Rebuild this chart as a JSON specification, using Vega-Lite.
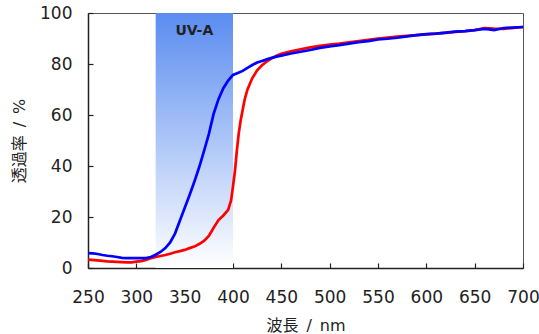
{
  "$schema": "https://vega.github.io/schema/vega-lite/v6.json",
  "width": 435,
  "height": 255,
  "autosize": {"type": "none"},
  "padding": {"left": 88, "top": 13, "right": 16, "bottom": 66},
  "config": {
    "view": {"stroke": "#555", "strokeWidth": 1},
    "font": "DejaVu Sans",
    "axis": {
      "grid": false,
      "domainColor": "#222",
      "domainWidth": 1.5,
      "tickColor": "#222",
      "tickWidth": 1.2,
      "tickSize": -5,
      "labelColor": "#222",
      "labelFont": "DejaVu Sans",
      "labelFontSize": 17,
      "titleFont": "DejaVu Sans, Noto Sans CJK JP",
      "titleFontSize": 16,
      "titleFontWeight": "normal",
      "titleColor": "#222"
    }
  },
  "datasets": {
    "band": [{"start": 320, "end": 400, "name": "UV-A"}],
    "spectra": [
      {"nm": 250, "T": 5.8, "sample": "B"}, {"nm": 255, "T": 5.7, "sample": "B"}, {"nm": 260, "T": 5.5, "sample": "B"},
      {"nm": 265, "T": 5.1, "sample": "B"}, {"nm": 270, "T": 4.8, "sample": "B"}, {"nm": 275, "T": 4.6, "sample": "B"},
      {"nm": 280, "T": 4.3, "sample": "B"}, {"nm": 285, "T": 4.0, "sample": "B"}, {"nm": 290, "T": 3.9, "sample": "B"},
      {"nm": 295, "T": 3.9, "sample": "B"}, {"nm": 300, "T": 3.9, "sample": "B"}, {"nm": 305, "T": 3.9, "sample": "B"},
      {"nm": 310, "T": 3.9, "sample": "B"}, {"nm": 315, "T": 4.3, "sample": "B"}, {"nm": 320, "T": 5.2, "sample": "B"},
      {"nm": 325, "T": 6.3, "sample": "B"}, {"nm": 330, "T": 7.8, "sample": "B"}, {"nm": 335, "T": 10.0, "sample": "B"},
      {"nm": 340, "T": 13.5, "sample": "B"}, {"nm": 345, "T": 18.5, "sample": "B"}, {"nm": 350, "T": 23.5, "sample": "B"},
      {"nm": 355, "T": 28.5, "sample": "B"}, {"nm": 360, "T": 33.8, "sample": "B"}, {"nm": 365, "T": 39.5, "sample": "B"},
      {"nm": 370, "T": 45.8, "sample": "B"}, {"nm": 375, "T": 52.5, "sample": "B"}, {"nm": 380, "T": 60.5, "sample": "B"},
      {"nm": 385, "T": 66.2, "sample": "B"}, {"nm": 390, "T": 70.5, "sample": "B"}, {"nm": 395, "T": 73.5, "sample": "B"},
      {"nm": 400, "T": 75.7, "sample": "B"}, {"nm": 405, "T": 76.5, "sample": "B"}, {"nm": 410, "T": 77.3, "sample": "B"},
      {"nm": 415, "T": 78.5, "sample": "B"}, {"nm": 420, "T": 79.6, "sample": "B"}, {"nm": 425, "T": 80.6, "sample": "B"},
      {"nm": 430, "T": 81.2, "sample": "B"}, {"nm": 435, "T": 81.8, "sample": "B"}, {"nm": 440, "T": 82.4, "sample": "B"},
      {"nm": 445, "T": 82.9, "sample": "B"}, {"nm": 450, "T": 83.3, "sample": "B"}, {"nm": 460, "T": 84.1, "sample": "B"},
      {"nm": 470, "T": 84.8, "sample": "B"}, {"nm": 480, "T": 85.5, "sample": "B"}, {"nm": 490, "T": 86.3, "sample": "B"},
      {"nm": 500, "T": 86.9, "sample": "B"}, {"nm": 510, "T": 87.4, "sample": "B"}, {"nm": 520, "T": 88.0, "sample": "B"},
      {"nm": 530, "T": 88.6, "sample": "B"}, {"nm": 540, "T": 89.0, "sample": "B"}, {"nm": 550, "T": 89.6, "sample": "B"},
      {"nm": 560, "T": 89.9, "sample": "B"}, {"nm": 570, "T": 90.3, "sample": "B"}, {"nm": 580, "T": 90.8, "sample": "B"},
      {"nm": 590, "T": 91.3, "sample": "B"}, {"nm": 600, "T": 91.7, "sample": "B"}, {"nm": 610, "T": 91.9, "sample": "B"},
      {"nm": 620, "T": 92.3, "sample": "B"}, {"nm": 630, "T": 92.7, "sample": "B"}, {"nm": 640, "T": 92.9, "sample": "B"},
      {"nm": 650, "T": 93.3, "sample": "B"}, {"nm": 660, "T": 93.8, "sample": "B"}, {"nm": 665, "T": 93.6, "sample": "B"},
      {"nm": 670, "T": 93.3, "sample": "B"}, {"nm": 680, "T": 94.1, "sample": "B"}, {"nm": 690, "T": 94.3, "sample": "B"},
      {"nm": 700, "T": 94.5, "sample": "B"},
      {"nm": 250, "T": 3.3, "sample": "A"}, {"nm": 260, "T": 3.0, "sample": "A"}, {"nm": 270, "T": 2.6, "sample": "A"},
      {"nm": 280, "T": 2.4, "sample": "A"}, {"nm": 290, "T": 2.2, "sample": "A"}, {"nm": 295, "T": 2.2, "sample": "A"},
      {"nm": 300, "T": 2.5, "sample": "A"}, {"nm": 305, "T": 2.7, "sample": "A"}, {"nm": 310, "T": 3.2, "sample": "A"},
      {"nm": 315, "T": 3.8, "sample": "A"}, {"nm": 320, "T": 4.3, "sample": "A"}, {"nm": 325, "T": 4.7, "sample": "A"},
      {"nm": 330, "T": 5.1, "sample": "A"}, {"nm": 335, "T": 5.6, "sample": "A"}, {"nm": 340, "T": 6.2, "sample": "A"},
      {"nm": 345, "T": 6.6, "sample": "A"}, {"nm": 350, "T": 7.1, "sample": "A"}, {"nm": 355, "T": 7.8, "sample": "A"},
      {"nm": 360, "T": 8.4, "sample": "A"}, {"nm": 365, "T": 9.4, "sample": "A"}, {"nm": 370, "T": 10.6, "sample": "A"},
      {"nm": 375, "T": 12.6, "sample": "A"}, {"nm": 380, "T": 15.8, "sample": "A"}, {"nm": 385, "T": 18.8, "sample": "A"},
      {"nm": 390, "T": 20.6, "sample": "A"}, {"nm": 395, "T": 22.8, "sample": "A"}, {"nm": 398, "T": 26.5, "sample": "A"},
      {"nm": 400, "T": 32.0, "sample": "A"}, {"nm": 402, "T": 38.0, "sample": "A"}, {"nm": 404, "T": 46.0, "sample": "A"},
      {"nm": 406, "T": 53.0, "sample": "A"}, {"nm": 408, "T": 58.0, "sample": "A"}, {"nm": 410, "T": 62.0, "sample": "A"},
      {"nm": 412, "T": 66.0, "sample": "A"}, {"nm": 415, "T": 70.0, "sample": "A"}, {"nm": 420, "T": 74.5, "sample": "A"},
      {"nm": 425, "T": 77.5, "sample": "A"}, {"nm": 430, "T": 79.5, "sample": "A"}, {"nm": 435, "T": 81.0, "sample": "A"},
      {"nm": 440, "T": 82.2, "sample": "A"}, {"nm": 445, "T": 83.2, "sample": "A"}, {"nm": 450, "T": 84.0, "sample": "A"},
      {"nm": 460, "T": 85.0, "sample": "A"}, {"nm": 470, "T": 85.8, "sample": "A"}, {"nm": 480, "T": 86.5, "sample": "A"},
      {"nm": 490, "T": 87.1, "sample": "A"}, {"nm": 500, "T": 87.6, "sample": "A"}, {"nm": 510, "T": 88.0, "sample": "A"},
      {"nm": 520, "T": 88.5, "sample": "A"}, {"nm": 530, "T": 89.0, "sample": "A"}, {"nm": 540, "T": 89.5, "sample": "A"},
      {"nm": 550, "T": 90.0, "sample": "A"}, {"nm": 560, "T": 90.4, "sample": "A"}, {"nm": 570, "T": 90.7, "sample": "A"},
      {"nm": 580, "T": 91.0, "sample": "A"}, {"nm": 590, "T": 91.3, "sample": "A"}, {"nm": 600, "T": 91.6, "sample": "A"},
      {"nm": 610, "T": 91.9, "sample": "A"}, {"nm": 620, "T": 92.2, "sample": "A"}, {"nm": 630, "T": 92.6, "sample": "A"},
      {"nm": 640, "T": 92.9, "sample": "A"}, {"nm": 650, "T": 93.3, "sample": "A"}, {"nm": 660, "T": 94.1, "sample": "A"},
      {"nm": 670, "T": 93.9, "sample": "A"}, {"nm": 680, "T": 93.8, "sample": "A"}, {"nm": 690, "T": 94.2, "sample": "A"},
      {"nm": 700, "T": 94.5, "sample": "A"}
    ]
  },
  "layer": [
    {
      "data": {"name": "band"},
      "mark": {
        "type": "rect",
        "color": {
          "gradient": "linear", "x1": 0, "y1": 0, "x2": 0, "y2": 1,
          "stops": [{"offset": 0, "color": "#5a8cf0"}, {"offset": 1, "color": "#ffffff"}]
        }
      },
      "encoding": {
        "x": {
          "field": "start", "type": "quantitative",
          "scale": {"domain": [250, 700], "nice": false, "zero": false},
          "axis": {
            "title": "波長\u2002/\u2002nm",
            "values": [250, 300, 350, 400, 450, 500, 550, 600, 650, 700],
            "labelPadding": 26, "labelFlush": false, "labelOverlap": false,
            "titleY": 57, "titleBaseline": "middle"
          }
        },
        "x2": {"field": "end"},
        "y": {
          "datum": 0, "type": "quantitative",
          "scale": {"domain": [0, 100], "nice": false},
          "axis": {
            "title": "透過率\u2002/\u2002%",
            "values": [0, 20, 40, 60, 80, 100],
            "labelPadding": 21, "labelFlush": false, "labelOverlap": false,
            "titleX": -69, "titleBaseline": "middle"
          }
        },
        "y2": {"datum": 100}
      }
    },
    {
      "data": {"name": "band"},
      "mark": {"type": "text", "font": "DejaVu Sans", "fontWeight": "bold", "fontSize": 14, "color": "#222", "baseline": "middle"},
      "encoding": {
        "x": {"datum": 360, "type": "quantitative", "title": "波長\u2002/\u2002nm"},
        "y": {"datum": 93, "type": "quantitative", "title": "透過率\u2002/\u2002%"},
        "text": {"field": "name"}
      }
    },
    {
      "data": {"name": "spectra"},
      "transform": [{"filter": "datum.sample === 'A'"}],
      "mark": {"type": "line", "color": "#ff0000", "strokeWidth": 2.7},
      "encoding": {
        "x": {"field": "nm", "type": "quantitative", "title": "波長\u2002/\u2002nm"},
        "y": {"field": "T", "type": "quantitative", "title": "透過率\u2002/\u2002%"}
      }
    },
    {
      "data": {"name": "spectra"},
      "transform": [{"filter": "datum.sample === 'B'"}],
      "mark": {"type": "line", "color": "#0000ff", "strokeWidth": 2.7},
      "encoding": {
        "x": {"field": "nm", "type": "quantitative", "title": "波長\u2002/\u2002nm"},
        "y": {"field": "T", "type": "quantitative", "title": "透過率\u2002/\u2002%"}
      }
    }
  ]
}
